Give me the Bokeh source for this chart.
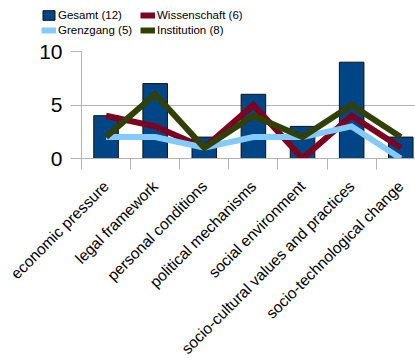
import math
from bokeh.plotting import figure
from bokeh.layouts import column, row
from bokeh.models import Range1d, FixedTicker, LinearAxis, Legend, LegendItem, Grid
from bokeh.embed import file_html
from bokeh.resources import INLINE

categories = ["economic pressure", "legal framework", "personal conditions",
              "political mechanisms", "social environment",
              "socio-cultural values and practices", "socio-technological change"]
gesamt = [4, 7, 2, 6, 3, 9, 2]
wissenschaft = [4, 3, 1, 5, 0, 4, 1]
grenzgang = [2, 2, 1, 2, 2, 3, 0]
institution = [2, 6, 1, 4, 2, 5, 2]
series_names = ["Gesamt (12)", "Wissenschaft (6)", "Grenzgang (5)", "Institution (8)"]
y_ticks = [0, 5, 10]

FONT = "Liberation Sans"
GRAY = "#b3b3b3"
COLORS = ["#004586", "#7e0021", "#83caff", "#314004"]

x = list(range(len(categories)))
bounds = [i - 0.5 for i in range(len(categories) + 1)]

# ---- legend strip (dummy renderers lie outside the visible range) ----
lg = figure(width=415, height=41, x_range=Range1d(0, 1), y_range=Range1d(0, 1),
            output_backend="svg", toolbar_location=None,
            x_axis_type=None, y_axis_type=None,
            min_border_left=0, min_border_right=0, min_border_top=0,
            min_border_bottom=0, outline_line_color=None)
off = [-10]
d_g = lg.vbar(x=off, top=off, width=0.5, fill_color=COLORS[0], line_color="#111111", line_width=1)
d_w = lg.line(off, off, line_color=COLORS[1], line_width=6)
d_z = lg.line(off, off, line_color=COLORS[2], line_width=6)
d_i = lg.line(off, off, line_color=COLORS[3], line_width=6)
legend = Legend(items=[LegendItem(label=series_names[0], renderers=[d_g]),
                       LegendItem(label=series_names[2], renderers=[d_z]),
                       LegendItem(label=series_names[1], renderers=[d_w]),
                       LegendItem(label=series_names[3], renderers=[d_i])],
                ncols=2, location=(41, 5), padding=0, margin=0, spacing=3,
                glyph_width=15, glyph_height=12, label_height=12, label_width=79,
                label_standoff=2, label_text_font_size="11.5px",
                label_text_font=FONT, label_text_color="black",
                border_line_alpha=0, background_fill_alpha=0)
lg.add_layout(legend, "center")

# ---- main chart ----
p = figure(frame_width=334, frame_height=107,
           x_range=Range1d(-0.5, 6.3), y_range=Range1d(0, 10),
           output_backend="svg", toolbar_location=None,
           x_axis_type=None, y_axis_type=None,
           min_border_left=81, min_border_top=10, min_border_right=0,
           min_border_bottom=200, outline_line_color=None)

yaxis = LinearAxis(ticker=FixedTicker(ticks=y_ticks),
                   major_tick_out=11, major_tick_in=0,
                   minor_tick_out=0, minor_tick_in=0,
                   axis_line_color=GRAY, major_tick_line_color=GRAY,
                   major_label_text_font_size="21px", major_label_text_font=FONT,
                   major_label_text_color="black", major_label_standoff=8)
p.add_layout(yaxis, "left")
p.add_layout(Grid(dimension=1, ticker=yaxis.ticker, grid_line_color=GRAY))

xaxis = LinearAxis(ticker=FixedTicker(ticks=x, minor_ticks=bounds),
                   major_tick_out=0, major_tick_in=0,
                   minor_tick_out=11, minor_tick_in=0,
                   minor_tick_line_color=GRAY, axis_line_color=GRAY,
                   major_label_overrides={i: c for i, c in enumerate(categories)},
                   major_label_orientation=math.pi / 4,
                   major_label_text_font_size="15.5px", major_label_text_font=FONT,
                   major_label_text_color="black", major_label_standoff=14)
p.add_layout(xaxis, "below")

p.vbar(x=x, top=gesamt, width=0.5, fill_color=COLORS[0],
       line_color="#111111", line_width=1)
p.line(x, wissenschaft, line_color=COLORS[1], line_width=6, line_join="miter")
p.line(x, grenzgang, line_color=COLORS[2], line_width=6, line_join="miter")
p.line(x, institution, line_color=COLORS[3], line_width=6, line_join="miter")

layout = column(row(lg, spacing=0), p, spacing=0)
open("out.html", "w").write(file_html(layout, INLINE))
